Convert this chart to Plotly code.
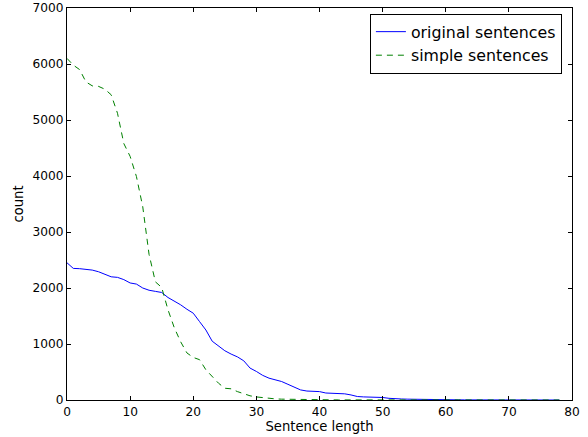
import plotly.graph_objects as go

lengths = list(range(0, 79))
original = [2450, 2350, 2345, 2335, 2320, 2290, 2240, 2200, 2190, 2150,
            2090, 2070, 2000, 1960, 1940, 1920, 1830, 1770, 1700, 1620,
            1550, 1400, 1250, 1050, 960, 880, 820, 770, 700, 570,
            510, 440, 390, 360, 330, 280, 230, 180, 160, 155,
            150, 125, 120, 115, 110, 90, 62, 55, 52, 50,
            45, 30, 20, 18, 15, 12, 10, 8, 6, 5,
            4, 3, 3, 2, 2, 2, 1, 1, 1, 1,
            1, 0, 0, 0, 0, 0, 0, 0, 0]
simple = [6100, 5980, 5900, 5680, 5610, 5600, 5550, 5450, 5120, 4580,
          4350, 3990, 3450, 2600, 2110, 2010, 1610, 1290, 1040, 840,
          760, 720, 540, 410, 300, 210, 200, 150, 110, 75,
          55, 40, 30, 20, 15, 12, 10, 8, 6, 5,
          4, 3, 3, 2, 2, 1, 1, 1, 1, 1,
          0, 0, 0, 0, 0, 0, 0, 0, 0, 0,
          0, 0, 0, 0, 0, 0, 0, 0, 0, 0,
          0, 0, 0, 0, 0, 0, 0, 0, 0]
x_ticks = [0, 10, 20, 30, 40, 50, 60, 70, 80]
y_ticks = [0, 1000, 2000, 3000, 4000, 5000, 6000, 7000]

fig = go.Figure()
fig.add_trace(go.Scatter(x=lengths, y=original, mode="lines", name="original sentences",
                         line=dict(color="#0000ff", width=1)))
fig.add_trace(go.Scatter(x=lengths, y=simple, mode="lines", name="simple sentences",
                         line=dict(color="#008000", width=1, dash="6px,5px")))

font = "DejaVu Sans, Liberation Sans, sans-serif"
axis_common = dict(showline=True, linecolor="black", linewidth=1, mirror="ticks",
                   ticks="inside", ticklen=4, tickcolor="black", showgrid=False,
                   zeroline=False, automargin=False,
                   tickfont=dict(size=12.2, color="black", family=font))

fig.update_layout(
    width=588, height=437,
    margin=dict(l=67, r=16, t=8, b=37),
    paper_bgcolor="white", plot_bgcolor="white",
    font=dict(family=font, color="black"),
    xaxis=dict(range=[0, 80], tickvals=x_ticks,
               title=dict(text="Sentence length", font=dict(size=13.2), standoff=2),
               **axis_common),
    yaxis=dict(range=[0, 7000], tickvals=y_ticks,
               title=dict(text="count", font=dict(size=13.2), standoff=5),
               **axis_common),
    legend=dict(x=0.98, y=0.985, xanchor="right", yanchor="top",
                bordercolor="black", borderwidth=1, bgcolor="white",
                font=dict(size=15.8, family=font, color="black"),
                tracegroupgap=0),
)

fig.write_html("out.html", config={"displayModeBar": False},
               post_script="document.body.style.margin='0';document.body.style.padding='0';")
